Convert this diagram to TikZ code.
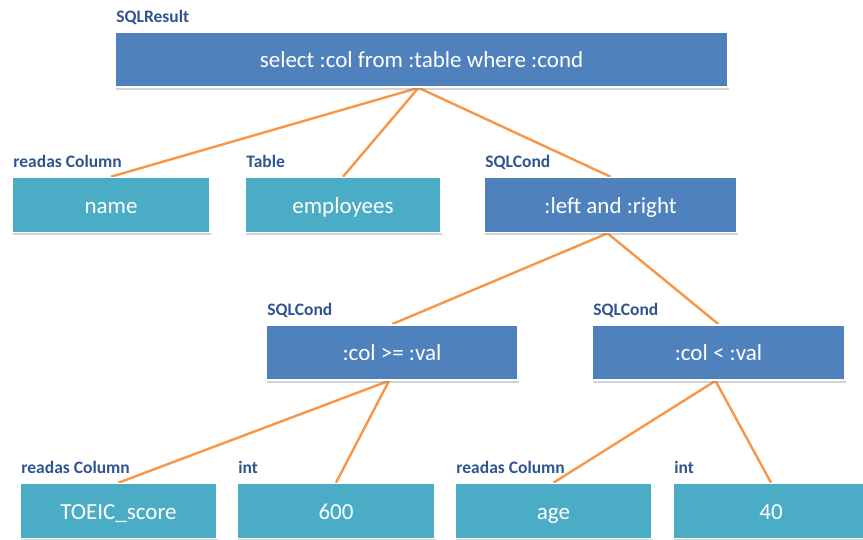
\documentclass[tikz,border=0pt]{standalone}
\usepackage{fontspec}
\setmainfont{Carlito}
\usetikzlibrary{positioning,shadows,backgrounds}
\definecolor{sqlblue}{HTML}{4F81BD}
\definecolor{sqlteal}{HTML}{4BACC6}
\definecolor{edgeorange}{HTML}{F79646}
\definecolor{typeblue}{HTML}{2F5491}

\begin{document}
\begin{tikzpicture}[x=1pt,y=-1pt,
    every node/.style={align=center},
    exprbox/.style={draw=white,line width=1.6pt,fill=sqlblue,text=white,
        font=\fontsize{23}{26}\selectfont,minimum height=55pt,inner sep=0pt,
        text height=20pt,text depth=4pt,
        drop shadow={opacity=0.35,shadow xshift=1pt,shadow yshift=-2.5pt}},
    leafbox/.style={exprbox,fill=sqlteal},
    typelabel/.style={text=typeblue,font=\fontsize{17.5}{20}\selectfont\bfseries,
        inner sep=0pt,anchor=base west},
    treeedge/.style={edgeorange,line width=2.4pt}]
  \useasboundingbox (0,0) rectangle (863,539);

  % expression nodes
  \node[exprbox,minimum width=613pt] (result) at (421.5,59.5) {select :col from :table where :cond};
  \node[leafbox,minimum width=198pt] (name) at (111,205) {name};
  \node[leafbox,minimum width=196pt] (employees) at (343,205) {employees};
  \node[exprbox,minimum width=253pt] (andcond) at (610.5,205) {:left and :right};
  \node[exprbox,minimum width=252pt] (gecond) at (392,352.5) {:col >= :val};
  \node[exprbox,minimum width=253pt] (ltcond) at (718.5,352.5) {:col < :val};
  \node[leafbox,minimum width=197pt] (score) at (118.5,511) {TOEIC\_score};
  \node[leafbox,minimum width=198pt] (sixhundred) at (336,511) {600};
  \node[leafbox,minimum width=197pt] (age) at (553.5,511) {age};
  \node[leafbox,minimum width=196pt] (forty) at (771,511) {40};

  % type labels
  \foreach \n/\t in {result/SQLResult,name/readas Column,employees/Table,
      andcond/SQLCond,gecond/SQLCond,ltcond/SQLCond,score/readas Column,
      sixhundred/int,age/readas Column,forty/int}
    \node[typelabel] (\n-type) at ([xshift=2pt,yshift=9pt]\n.north west) {\t};

  % tree edges
  \begin{pgfonlayer}{background}
    \foreach \p/\c in {result/name,result/employees,result/andcond,
        andcond/gecond,andcond/ltcond,gecond/score,gecond/sixhundred,
        ltcond/age,ltcond/forty}
      \draw[treeedge] ([xshift=-3pt]\p.south) -- (\c.north);
  \end{pgfonlayer}
\end{tikzpicture}
\end{document}
